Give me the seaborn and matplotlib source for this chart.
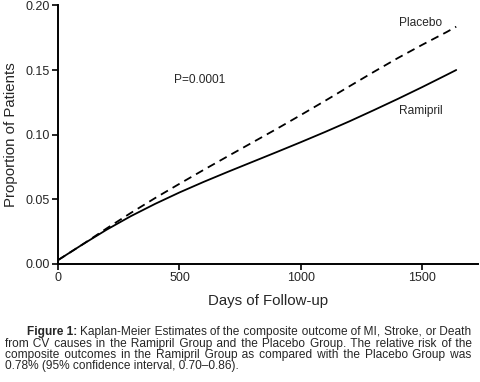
import matplotlib
matplotlib.use("Agg")
import matplotlib.pyplot as plt
import seaborn as sns
import pandas as pd

days = [0, 100, 200, 300, 400, 500, 600, 700, 800, 900, 1000, 1100, 1200, 1300, 1400, 1500, 1600, 1640]
ramipril = [0.003, 0.015, 0.0265, 0.037, 0.0465, 0.0553, 0.0635, 0.0713, 0.0789, 0.0865, 0.0942,
            0.1021, 0.1103, 0.1189, 0.1277, 0.1368, 0.1462, 0.1500]
placebo = [0.003, 0.015, 0.0275, 0.0395, 0.051, 0.062, 0.0728, 0.0834, 0.0939, 0.1044, 0.1152,
           0.1262, 0.1374, 0.1485, 0.1593, 0.1695, 0.1793, 0.1835]
xticks = [0, 500, 1000, 1500]
yticks = [0.00, 0.05, 0.10, 0.15, 0.20]

sns.set_style("ticks")
plt.rcParams['font.family'] = ['Liberation Sans', 'DejaVu Sans']

df = pd.DataFrame({"Days": days * 2,
                   "Proportion": ramipril + placebo,
                   "Group": ["Ramipril"] * len(days) + ["Placebo"] * len(days)})

W, H = 480, 382
fig = plt.figure(figsize=(W / 100, H / 100), dpi=100)
ax = fig.add_axes([0.121, 0.309, 0.875, 0.677])

sns.lineplot(data=df[df.Group == "Ramipril"], x="Days", y="Proportion", ax=ax,
             color="black", lw=1.3)
sns.lineplot(data=df[df.Group == "Placebo"], x="Days", y="Proportion", ax=ax,
             color="black", lw=1.3, linestyle=(0, (4.5, 3)))

ax.set_xlim(0, 1730)
ax.set_ylim(0, 0.2)
ax.set_xticks(xticks)
ax.set_xticklabels([str(t) for t in xticks])
ax.set_yticks(yticks)
ax.set_yticklabels([f"{t:.2f}" for t in yticks])
ax.tick_params(axis="both", labelsize=9, length=4, width=1.2, color="black", pad=2)
for s in ["left", "bottom"]:
    ax.spines[s].set_linewidth(1.4)
    ax.spines[s].set_color("black")
for s in ["top", "right"]:
    ax.spines[s].set_visible(False)

ax.set_xlabel("Days of Follow-up", fontsize=10.8, labelpad=7)
ax.set_ylabel("Proportion of Patients", fontsize=10.8, labelpad=5)

ax.text(582, 0.1426, "P=0.0001", fontsize=8.6, ha="center", va="center")
ax.text(1405, 0.186, "Placebo", fontsize=8.6, ha="left", va="center")
ax.text(1405, 0.118, "Ramipril", fontsize=8.6, ha="left", va="center")

# caption, justified: word gaps built from hair spaces to fill the line exactly
fs = 8.6
renderer = fig.canvas.get_renderer()
right = 472
HAIR = "\u200a"


def width(s, bold=False):
    t = fig.text(0, 0, s, fontsize=fs, fontweight="bold" if bold else "normal")
    w = t.get_window_extent(renderer).width
    t.remove()
    return w


def build(words, total_h):
    n = len(words) - 1
    out = words[0]
    acc = 0
    for i in range(1, len(words)):
        k = int(round(total_h * i / n)) - acc
        acc += k
        out += HAIR * max(k, 1) + words[i]
    return out


hair_ok = width("a" + HAIR * 20 + "b") - width("ab") > 5


def justify(s, avail):
    words = s.split(" ")
    if not hair_ok or len(words) < 2:
        return s
    n = len(words) - 1
    best = None
    for total_h in range(n, 2000):
        cand = build(words, total_h)
        if width(cand) > avail:
            break
        best = cand
    return best if best is not None else s


y0 = 335
bold = "Figure 1:"
first = "Kaplan-Meier Estimates of the composite outcome of MI, Stroke, or Death"
fig.text(27 / W, 1 - y0 / H, bold, fontsize=fs, fontweight="bold", ha="left", va="baseline")
bx = 27 + width(bold, True) + 3
fig.text(bx / W, 1 - y0 / H, justify(first, right - bx), fontsize=fs, ha="left", va="baseline")

rest = [
    ("from CV causes in the Ramipril Group and the Placebo Group. The relative risk of the", True),
    ("composite outcomes in the Ramipril Group as compared with the Placebo Group was", True),
    ("0.78% (95% confidence interval, 0.70\u20130.86).", False),
]
for i, (line, j) in enumerate(rest):
    txt = justify(line, right - 5) if j else line
    fig.text(5 / W, 1 - (y0 + 11.5 * (i + 1)) / H, txt, fontsize=fs, ha="left", va="baseline")

fig.savefig("out.png", dpi=100)
